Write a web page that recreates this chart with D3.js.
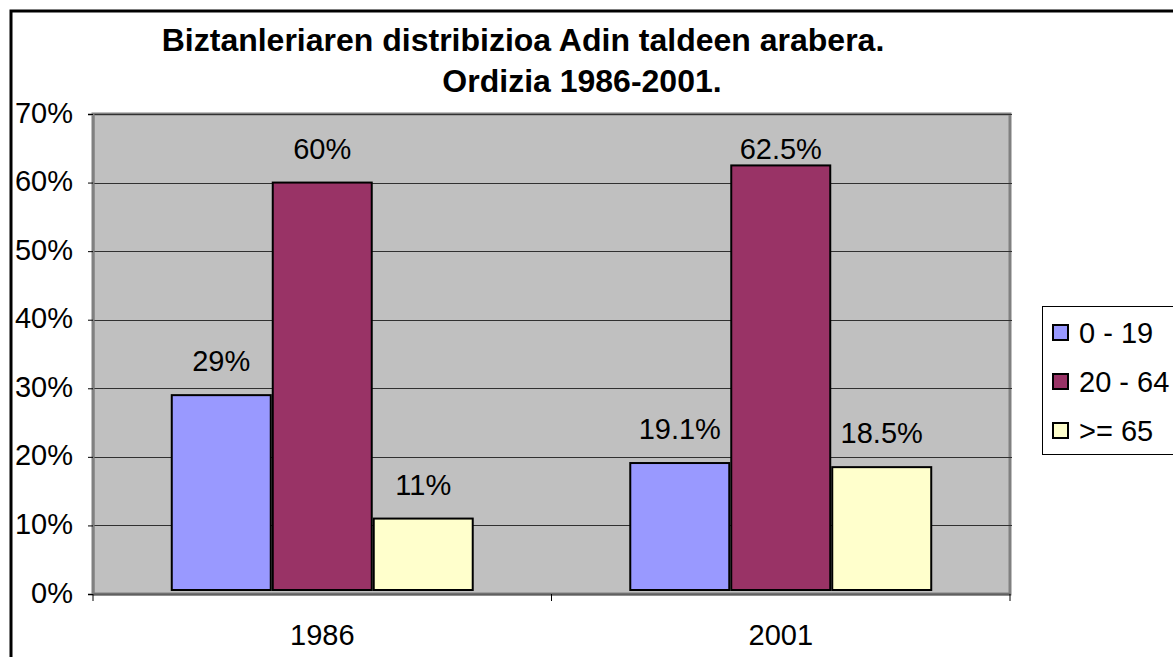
<!DOCTYPE html>
<html>
<head>
<meta charset="utf-8">
<script src="https://cdn.jsdelivr.net/npm/d3@7"></script>
<style>
  body { margin: 0; background: #fff; }
  svg { display: block; font-family: "Liberation Sans", Arial, sans-serif; }
</style>
</head>
<body>
<svg id="chart" width="1173" height="657"></svg>
<script>
var svg = d3.select("#chart");

// data
var years = ["1986", "2001"];
var groups = ["0 - 19", "20 - 64", ">= 65"];
var values1986 = [0.29, 0.60, 0.11];
var values2001 = [0.191, 0.625, 0.185];
var labels1986 = ["29%", "60%", "11%"];
var labels2001 = ["19.1%", "62.5%", "18.5%"];
var yTicks = [0, 0.1, 0.2, 0.3, 0.4, 0.5, 0.6, 0.7];
var colors = ["#9999ff", "#993366", "#ffffcc"];

var rows = [];
years.forEach(function (yr, i) {
  var vals = i == 0 ? values1986 : values2001;
  var labs = i == 0 ? labels1986 : labels2001;
  groups.forEach(function (g, j) {
    rows.push({ year: yr, group: g, value: vals[j], label: labs[j], color: colors[j] });
  });
});

// plot area edges (note: "top" is a reserved window global)
var plotLeft = 93, plotRight = 1010, plotTop = 114, plotBottom = 594;

var x0 = d3.scaleBand().domain(years).range([plotLeft, plotRight]).padding(0);
var x1 = d3.scaleBand().domain(groups).range([0, x0.bandwidth()]).paddingInner(0).paddingOuter(0.77);
var y = d3.scaleLinear().domain([0, 0.7]).range([plotBottom, plotTop]);

// outer frame
svg.append("rect")
  .attr("x", 11).attr("y", 11)
  .attr("width", 1200).attr("height", 700)
  .attr("fill", "none").attr("stroke", "#000").attr("stroke-width", 3);

// plot area
svg.append("rect")
  .attr("x", plotLeft).attr("y", plotTop)
  .attr("width", plotRight - plotLeft).attr("height", plotBottom - plotTop)
  .attr("fill", "#c0c0c0").attr("stroke", "#808080").attr("stroke-width", 3);

// gridlines
svg.append("g")
  .selectAll("line")
  .data(yTicks.slice(1))
  .enter().append("line")
  .attr("x1", plotLeft).attr("x2", plotRight + 2)
  .attr("y1", function (d) { return Math.round(y(d)) + 0.5; })
  .attr("y2", function (d) { return Math.round(y(d)) + 0.5; })
  .attr("stroke", "#303030").attr("stroke-width", 1);

// y axis
var leftAxis = d3.axisLeft(y).tickValues(yTicks).tickSize(5).tickPadding(15)
  .tickFormat(d3.format(".0%"));
svg.append("g")
  .attr("class", "yaxis")
  .attr("transform", "translate(" + plotLeft + ",0)")
  .call(leftAxis)
  .call(function (g) {
    g.select(".domain").attr("stroke", "#808080").attr("stroke-width", 2);
    g.selectAll(".tick line").attr("stroke", "#000");
    g.selectAll("text").attr("font-size", 29).attr("fill", "#000")
      .attr("font-family", "Liberation Sans, Arial, sans-serif").attr("dy", "0.28em");
  });

// x axis
var bottomAxis = d3.axisBottom(x0).tickSize(0).tickPadding(30);
var xg = svg.append("g")
  .attr("class", "xaxis")
  .attr("transform", "translate(0," + plotBottom + ")")
  .call(bottomAxis)
  .call(function (g) {
    g.select(".domain").attr("stroke", "#606060").attr("stroke-width", 2);
    g.selectAll("text").attr("font-size", 29).attr("fill", "#000")
      .attr("font-family", "Liberation Sans, Arial, sans-serif");
  });
// category separator ticks
xg.selectAll(".sep")
  .data([plotLeft, x0("2001"), plotRight])
  .enter().append("line")
  .attr("x1", function (d) { return d; }).attr("x2", function (d) { return d; })
  .attr("y1", 0).attr("y2", 7)
  .attr("stroke", "#000").attr("stroke-width", 1);

// bars
svg.append("g")
  .selectAll("rect")
  .data(rows)
  .enter().append("rect")
  .attr("x", function (d) { return x0(d.year) + x1(d.group) + 1; })
  .attr("y", function (d) { return y(d.value); })
  .attr("width", x1.bandwidth() - 2)
  .attr("height", function (d) { return y(0) - 4 - y(d.value); })
  .attr("fill", function (d) { return d.color; })
  .attr("stroke", "#000").attr("stroke-width", 2);

// data labels
svg.append("g")
  .selectAll("text")
  .data(rows)
  .enter().append("text")
  .attr("x", function (d) { return x0(d.year) + x1(d.group) + x1.bandwidth() / 2; })
  .attr("y", function (d) { return Math.max(y(d.value) - 24, plotTop + 45); })
  .attr("text-anchor", "middle")
  .attr("font-size", 29)
  .text(function (d) { return d.label; });

// title
svg.append("text")
  .attr("x", 523).attr("y", 51)
  .attr("text-anchor", "middle")
  .attr("font-size", 32).attr("font-weight", "bold")
  .text("Biztanleriaren distribizioa Adin taldeen arabera.");
svg.append("text")
  .attr("x", 582).attr("y", 92)
  .attr("text-anchor", "middle")
  .attr("font-size", 32).attr("font-weight", "bold")
  .text("Ordizia 1986-2001.");

// legend
var legend = svg.append("g").attr("transform", "translate(1042,306)");
legend.append("rect")
  .attr("x", 0.5).attr("y", 0.5)
  .attr("width", 140).attr("height", 148)
  .attr("fill", "#fff").attr("stroke", "#000").attr("stroke-width", 1);
var items = legend.selectAll(".item")
  .data(groups)
  .enter().append("g")
  .attr("class", "item")
  .attr("transform", function (d, i) { return "translate(0," + (27 + i * 49) + ")"; });
items.append("rect")
  .attr("x", 11).attr("y", -8)
  .attr("width", 15).attr("height", 15)
  .attr("fill", function (d, i) { return colors[i]; })
  .attr("stroke", "#000").attr("stroke-width", 2);
items.append("text")
  .attr("x", 37).attr("y", 10)
  .attr("font-size", 29)
  .text(function (d) { return d; });
</script>
</body>
</html>
